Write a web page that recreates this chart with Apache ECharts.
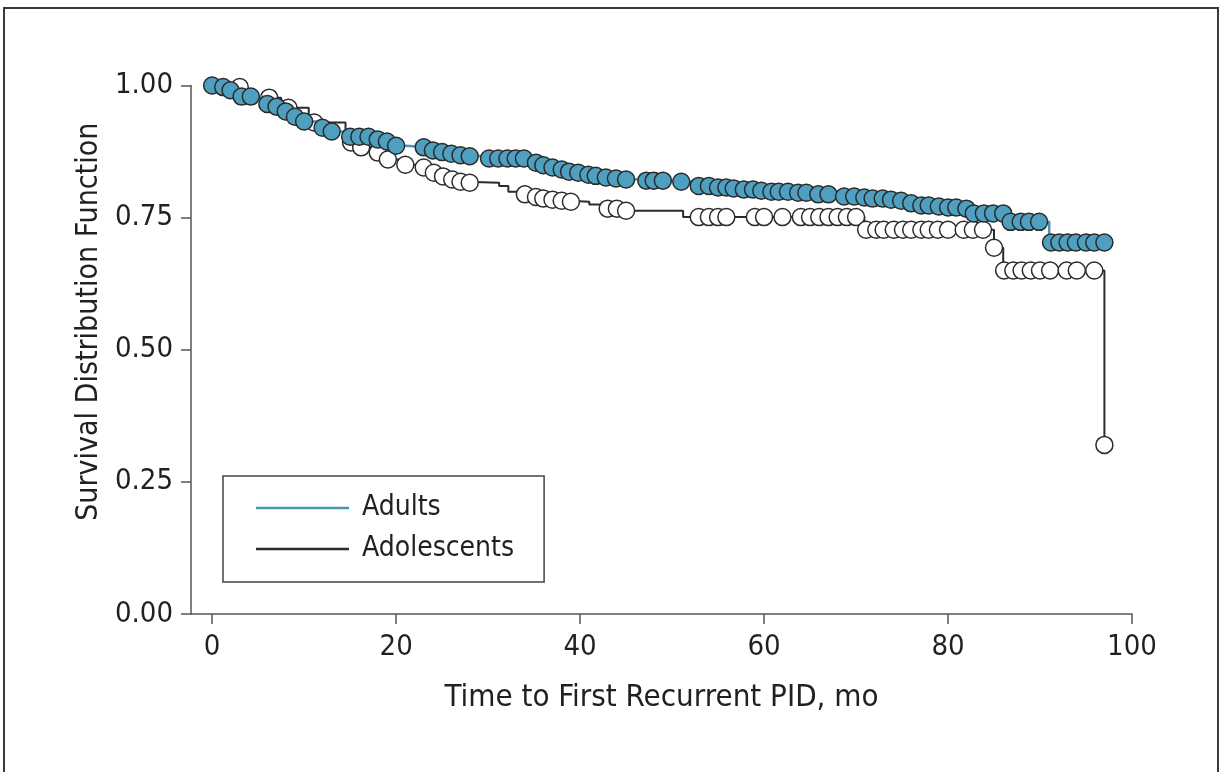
<!DOCTYPE html>
<html>
<head>
<meta charset="utf-8">
<script src="https://cdn.jsdelivr.net/npm/echarts@6/dist/echarts.min.js"></script>
<style>
  html, body { margin: 0; padding: 0; background: #fff; }
  #chart { width: 1222px; height: 772px; }
</style>
</head>
<body>
<div id="chart"></div>
<script>
// Kaplan-Meier steps: [month, survival] at each drop
const adultSteps = [
  [0, 1.0], [1.0, 0.997], [1.8, 0.991], [3.0, 0.979], [5.5, 0.965], [6.8, 0.96],
  [7.8, 0.951], [8.8, 0.941], [9.8, 0.932], [11.5, 0.92], [12.8, 0.913], [14.5, 0.903],
  [17.8, 0.898], [18.8, 0.894], [19.8, 0.886], [21.0, 0.883], [23.5, 0.877],
  [24.8, 0.874], [25.8, 0.871], [26.8, 0.868], [27.8, 0.866], [29.5, 0.862],
  [35.0, 0.854], [35.8, 0.849], [36.8, 0.845], [37.8, 0.841], [38.6, 0.837],
  [39.6, 0.835], [40.6, 0.831], [41.5, 0.829], [42.6, 0.826], [43.6, 0.824],
  [44.6, 0.822], [46.5, 0.82], [50.5, 0.818], [52.5, 0.81], [54.6, 0.807],
  [56.5, 0.805], [57.5, 0.803], [59.5, 0.801], [60.5, 0.799], [63.5, 0.797],
  [65.5, 0.794], [68.5, 0.79], [70.6, 0.788], [71.6, 0.786], [73.6, 0.784],
  [74.6, 0.782], [75.6, 0.777], [76.8, 0.773], [78.6, 0.771], [79.6, 0.769],
  [81.6, 0.767], [82.5, 0.758], [86.5, 0.742], [91.0, 0.703], [97.0, 0.703]
];
const adultCensored = [
  0, 1.2, 2.0, 3.2, 4.2, 6.0, 7.0, 8.0, 9.0, 10.0, 12.0, 13.0, 15.0, 16.0, 17.0,
  18.0, 19.0, 20.0, 23.0, 24.0, 25.0, 26.0, 27.0, 28.0, 30.1, 31.1, 32.1, 33.0,
  33.9, 35.2, 36.0, 37.0, 38.0, 38.8, 39.8, 40.9, 41.7, 42.8, 43.9, 45.0, 47.2,
  48.0, 49.0, 51.0, 52.9, 54.0, 55.0, 55.9, 56.7, 57.8, 58.8, 59.7, 60.8, 61.6,
  62.6, 63.7, 64.6, 65.9, 67.0, 68.7, 69.8, 70.9, 71.8, 72.9, 73.8, 74.9, 76.0,
  77.1, 77.9, 79.0, 80.0, 80.9, 82.0, 82.8, 83.9, 84.9, 86.0, 86.8, 87.9, 88.8,
  89.9, 91.2, 92.1, 93.0, 93.9, 95.0, 95.9, 97.0
];

const adolSteps = [
  [0, 1.0], [2.5, 0.997], [3.3, 0.977], [7.5, 0.958], [10.5, 0.93], [14.5, 0.892],
  [15.8, 0.883], [17.5, 0.873], [18.8, 0.86], [20.5, 0.85], [22.5, 0.845],
  [23.8, 0.835], [24.8, 0.828], [25.8, 0.822], [26.6, 0.818], [27.6, 0.816],
  [31.2, 0.81], [32.2, 0.799], [33.8, 0.794], [35.0, 0.789], [35.8, 0.786],
  [36.8, 0.784], [37.8, 0.782], [38.8, 0.78], [41.0, 0.775], [42.5, 0.767],
  [44.6, 0.763], [51.2, 0.751], [70.9, 0.727], [85.0, 0.693], [86.0, 0.65],
  [97.0, 0.32]
];
const adolCensored = [
  3.0, 6.2, 8.3, 11.1, 15.1, 16.2, 18.0, 19.1, 21.0, 23.0, 24.1, 25.1, 26.1,
  27.0, 28.0, 34.0, 35.2, 36.0, 37.0, 38.0, 39.0, 43.0, 44.0, 45.0, 52.9, 54.0,
  55.0, 55.9, 59.0, 60.0, 62.0, 64.0, 65.0, 66.0, 67.0, 68.0, 69.0, 70.0, 71.1,
  72.2, 73.0, 74.1, 75.1, 76.0, 77.1, 77.9, 78.9, 80.0, 81.7, 82.7, 83.8, 85.0,
  86.1, 87.1, 88.0, 89.0, 90.0, 91.1, 92.9, 94.0, 95.9, 97.0
];

const xTicks = [0, 20, 40, 60, 80, 100];

// survival value of a step curve at time t
function survAt(steps, t) {
  let s = steps[0][1];
  steps.forEach(p => { if (p[0] <= t) s = p[1]; });
  return s;
}

const FONT = '"DejaVu Sans Condensed", "Liberation Sans Narrow", "Roboto", sans-serif';
const TEXT = '#231f20';
const AXIS = '#555';
const TEAL = '#4a93b1';

const chart = echarts.init(document.getElementById('chart'));
chart.setOption({
  animation: false,
  backgroundColor: '#fff',
  textStyle: { fontFamily: FONT },
  graphic: [{
    type: 'rect',
    shape: { x: 4, y: 8, width: 1214, height: 800 },
    style: { fill: 'none', stroke: '#3a3a3a', lineWidth: 2 },
    silent: true
  }],
  grid: { left: 191, right: 90, top: 85.5, bottom: 158 },
  legend: {
    orient: 'vertical',
    left: 223,
    top: 476,
    padding: [17, 30, 18, 33],
    itemGap: 11,
    itemWidth: 93,
    itemHeight: 2.5,
    icon: 'rect',
    borderColor: '#444',
    borderWidth: 1.5,
    textStyle: { fontSize: 28, color: TEXT, fontFamily: FONT, lineHeight: 30, padding: [0, 0, 0, 8] },
    data: ['Adults', 'Adolescents']
  },
  xAxis: {
    type: 'value',
    min: -2.3,
    max: 100,
    name: 'Time to First Recurrent PID, mo',
    nameLocation: 'middle',
    nameGap: 68,
    nameTextStyle: { fontSize: 31, color: TEXT, fontFamily: FONT },
    axisLine: { onZero: false, lineStyle: { color: AXIS, width: 1.5 } },
    axisTick: { customValues: xTicks, length: 10, lineStyle: { color: AXIS, width: 1.5 } },
    axisLabel: { customValues: xTicks, fontSize: 29, color: TEXT, margin: 19, fontFamily: FONT },
    splitLine: { show: false }
  },
  yAxis: {
    type: 'value',
    min: 0,
    max: 1,
    interval: 0.25,
    name: 'Survival Distribution Function',
    nameLocation: 'middle',
    nameGap: 83,
    nameTextStyle: { fontSize: 30, color: TEXT, fontFamily: FONT, padding: [0, 0, 0, 56] },
    axisLine: { show: true, onZero: false, lineStyle: { color: AXIS, width: 1.5 } },
    axisTick: { show: true, length: 10, lineStyle: { color: AXIS, width: 1.5 } },
    axisLabel: { fontSize: 29, color: TEXT, margin: 18, fontFamily: FONT, formatter: v => v.toFixed(2) },
    splitLine: { show: false }
  },
  series: [
    {
      name: 'Adolescents',
      type: 'line',
      step: 'end',
      symbol: 'none',
      lineStyle: { color: '#2b2b2b', width: 2 },
      itemStyle: { color: '#2b2b2b' },
      data: adolSteps,
      z: 2
    },
    {
      name: 'Adolescents censored',
      type: 'scatter',
      symbol: 'circle',
      symbolSize: 17,
      itemStyle: { color: '#fff', borderColor: '#2b2b2b', borderWidth: 1.5, opacity: 1 },
      data: adolCensored.map(t => [t, survAt(adolSteps, t)]),
      z: 3
    },
    {
      name: 'Adults',
      type: 'line',
      step: 'end',
      symbol: 'none',
      lineStyle: { color: TEAL, width: 2.5 },
      itemStyle: { color: TEAL },
      data: adultSteps,
      z: 4
    },
    {
      name: 'Adults censored',
      type: 'scatter',
      symbol: 'circle',
      symbolSize: 17,
      itemStyle: { color: '#4f9fc0', borderColor: '#2a2a2a', borderWidth: 1.5, opacity: 1 },
      data: adultCensored.map(t => [t, survAt(adultSteps, t)]),
      z: 5
    }
  ]
});
</script>
</body>
</html>
